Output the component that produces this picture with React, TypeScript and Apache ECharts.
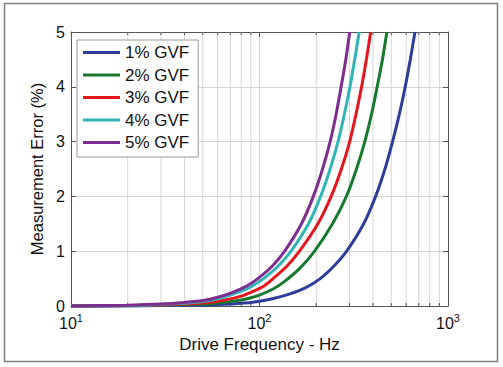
import React, { useEffect, useRef } from "react";
import * as echarts from "echarts";

const series1: [number, number][] = [
  [10, 0], [20, 0.003], [30, 0.007], [40, 0.012], [50, 0.018], [60, 0.026], [70, 0.036], [80, 0.05], [90, 0.065],
  [100, 0.085], [120, 0.14], [145, 0.22], [175, 0.33], [210, 0.5], [250, 0.74], [290, 1.0], [357, 1.5],
  [413, 2.0], [463, 2.5], [508, 3.0], [552, 3.5], [593, 4.0], [631, 4.5], [668, 5],
];
const series2: [number, number][] = [
  [10, 0], [20, 0.005], [30, 0.012], [40, 0.022], [50, 0.035], [60, 0.055], [70, 0.08], [80, 0.11], [90, 0.15],
  [100, 0.2], [118, 0.31], [136, 0.45], [165, 0.7], [196, 1.0], [244, 1.5], [289, 2.0], [327, 2.5],
  [362, 3.0], [393, 3.5], [421, 4.0], [449, 4.5], [474, 5],
];
const series3: [number, number][] = [
  [10, 0], [20, 0.008], [30, 0.02], [40, 0.035], [50, 0.055], [60, 0.085], [70, 0.13], [80, 0.18], [90, 0.25],
  [104, 0.35], [118, 0.5], [140, 0.73], [163, 1.0], [204, 1.5], [240, 2.0], [272, 2.5], [301, 3.0],
  [325, 3.5], [348, 4.0], [369, 4.5], [389, 5],
];
const series4: [number, number][] = [
  [10, 0], [20, 0.01], [30, 0.03], [40, 0.05], [50, 0.08], [60, 0.13], [77, 0.25], [90, 0.35], [105, 0.5],
  [125, 0.72], [147, 1.0], [182, 1.5], [211, 2.0], [237, 2.5], [261, 3.0], [282, 3.5], [302, 4.0],
  [320, 4.5], [338, 5],
];
const series5: [number, number][] = [
  [10, 0], [20, 0.015], [30, 0.035], [40, 0.065], [50, 0.1], [60, 0.16], [72, 0.25], [85, 0.36], [98, 0.5],
  [117, 0.73], [136, 1.0], [167, 1.5], [193, 2.0], [216, 2.5], [237, 3.0], [255, 3.5], [271, 4.0],
  [287, 4.5], [301, 5],
];

const seriesNames = ["1% GVF", "2% GVF", "3% GVF", "4% GVF", "5% GVF"];
const seriesData = [series1, series2, series3, series4, series5];
const colors = ["#2e3d9a", "#17792f", "#e3161e", "#31b4b6", "#7d2d8e"];

const minorFreqs = [20, 30, 40, 50, 60, 70, 80, 90, 200, 300, 400, 500, 600, 700, 800, 900];
const xMin = 10;
const xMax = 1000;
const yMin = 0;
const yMax = 5;
const yInterval = 1;

const FONT = "'Liberation Sans', Arial, Helvetica, sans-serif";

export default function App() {
  const ref = useRef<HTMLDivElement>(null);

  useEffect(() => {
    if (!ref.current) return;
    const chart = echarts.init(ref.current, null, { renderer: "svg" });

    const lineSeries = seriesNames.map((name, i) => ({
      name,
      type: "line",
      data: seriesData[i],
      showSymbol: false,
      symbol: "none",
      smooth: 0.3,
      clip: false,
      color: colors[i],
      lineStyle: { width: 3, color: colors[i] },
      z: 3,
    }));

    const option: any = {
      animation: false,
      backgroundColor: "#ffffff",
      textStyle: { fontFamily: FONT },
      grid: { left: 71, right: 55, top: 32, bottom: 61 },
      legend: {
        data: seriesNames,
        orient: "vertical",
        left: 77,
        top: 40,
        icon: "rect",
        itemWidth: 37,
        itemHeight: 3,
        itemGap: 5.5,
        padding: [4, 9, 6, 6],
        backgroundColor: "#ffffff",
        borderColor: "#9a9a9a",
        borderWidth: 1,
        borderRadius: 0,
        textStyle: { fontSize: 17, color: "#111", fontFamily: FONT, lineHeight: 16 },
      },
      xAxis: [
        {
          type: "log",
          logBase: 10,
          min: xMin,
          max: xMax,
          name: "Drive Frequency - Hz",
          nameLocation: "middle",
          nameGap: 27,
          nameTextStyle: { fontSize: 17, color: "#111", fontFamily: FONT },
          axisLine: { show: true, onZero: false, lineStyle: { color: "#555", width: 1 } },
          axisTick: { show: true, inside: true, length: 5, lineStyle: { color: "#555" } },
          axisLabel: {
            margin: 6,
            formatter: (v: number) => `{b|10}{s|${Math.round(Math.log10(v))}}`,
            rich: {
              b: { fontSize: 16, color: "#111", fontFamily: FONT, lineHeight: 19, verticalAlign: "bottom" },
              s: { fontSize: 11, color: "#111", fontFamily: FONT, lineHeight: 11, verticalAlign: "top" },
            },
          },
          splitLine: { show: true, lineStyle: { color: "#d6d6d6", width: 1 } },
        },
        {
          type: "log",
          logBase: 10,
          min: xMin,
          max: xMax,
          position: "top",
          axisLine: { show: true, onZero: false, lineStyle: { color: "#555", width: 1 } },
          axisTick: { show: true, inside: true, length: 5, lineStyle: { color: "#555" } },
          axisLabel: { show: false },
          splitLine: { show: false },
        },
      ],
      yAxis: [
        {
          type: "value",
          min: yMin,
          max: yMax,
          interval: yInterval,
          name: "Measurement Error (%)",
          nameLocation: "middle",
          nameGap: 26,
          nameTextStyle: { fontSize: 16.5, color: "#111", fontFamily: FONT },
          axisLine: { show: true, lineStyle: { color: "#555", width: 1 } },
          axisTick: { show: true, inside: true, length: 5, lineStyle: { color: "#555" } },
          axisLabel: { fontSize: 16, color: "#111", margin: 6, fontFamily: FONT },
          splitLine: { show: true, lineStyle: { color: "#d6d6d6", width: 1 } },
        },
        {
          type: "value",
          min: yMin,
          max: yMax,
          interval: yInterval,
          position: "right",
          axisLine: { show: true, lineStyle: { color: "#555", width: 1 } },
          axisTick: { show: true, inside: true, length: 5, lineStyle: { color: "#555" } },
          axisLabel: { show: false },
          splitLine: { show: false },
        },
      ],
      series: [
        {
          name: "minor",
          type: "custom",
          silent: true,
          z: 1,
          clip: false,
          encode: { x: 0, y: 1 },
          data: minorFreqs.map((f) => [f, 0]),
          renderItem: (params: any, api: any) => {
            const x = api.coord([api.value(0), 0])[0];
            const cs = params.coordSys;
            const top = cs.y;
            const bottom = cs.y + cs.height;
            return {
              type: "group",
              children: [
                { type: "line", shape: { x1: x, y1: top, x2: x, y2: bottom }, style: { stroke: "#d6d6d6", lineWidth: 1 } },
                { type: "line", shape: { x1: x, y1: bottom, x2: x, y2: bottom - 3 }, style: { stroke: "#555", lineWidth: 1 } },
                { type: "line", shape: { x1: x, y1: top, x2: x, y2: top + 3 }, style: { stroke: "#555", lineWidth: 1 } },
              ],
            };
          },
        },
        ...lineSeries,
      ],
      graphic: [
        {
          type: "rect",
          silent: true,
          z: -10,
          shape: { x: 4.5, y: 3.5, width: 493, height: 358 },
          style: { fill: "none", stroke: "#808080", lineWidth: 1.5 },
        },
      ],
    };

    chart.setOption(option);
    return () => chart.dispose();
  }, []);

  return (
    <div
      ref={ref}
      style={{ position: "fixed", left: 0, top: 0, width: 503, height: 367, background: "#fff" }}
    />
  );
}
